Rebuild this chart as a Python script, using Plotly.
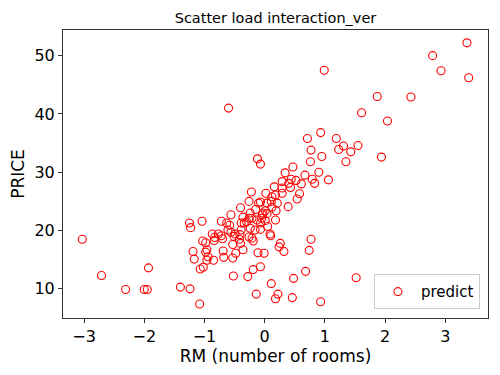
import plotly.graph_objects as go

rm = [-3.03, -2.71, -2.31, -2.00, -1.95, -1.93, -1.40, -1.24, -1.08, -1.25,
      -1.23, -1.04, -1.19, -1.17, -1.07, -1.02, -1.03, -0.98, -0.96, -0.98,
      -0.94, -0.96, -0.85, -0.87, -0.83, -0.84, -0.72, -0.77, -0.72, -0.70,
      -0.69, -0.68, -0.63, -0.58, -0.61, -0.56, -0.56, -0.51, -0.53, -0.53,
      -0.52, -0.48, -0.42, -0.40, -0.36, -0.40, -0.36, -0.39, -0.34, -0.39,
      -0.26, -0.26, -0.21, -0.19, -0.28, -0.22, -0.26, -0.24, -0.15, -0.10,
      -0.19, -0.14, -0.11, -0.07, -0.01, -0.60, -0.12, -0.07,
      3.36, 2.79, 2.93, 3.39, 0.99, 1.87, 2.43, 1.61, 2.04, 0.93,
      0.71, 1.19, 0.77, 1.23, 1.31, 1.43, 1.55, 0.95, 0.76, 1.35,
      1.94, 0.47, 0.34, 0.67, 0.90, 1.06, 0.79, 0.83, 0.44, 0.40,
      0.29, 0.52, 0.61, 0.16, 0.43, 0.02, 0.18, 0.58, 0.54, -0.07,
      0.04, 0.11, 0.21, 0.12, 0.39, 0.19, -0.04, 0.04, 0.01, 0.18,
      -0.07, 0.09, 0.10, 0.77, 0.26, 0.24, 0.32, 0.74, 0.68, 0.48,
      1.52, 0.11, 0.22, 0.18, 0.46, 0.93,
      -0.03, 0.01, -0.05, -0.13, -0.21, -0.30, -0.49, -0.41, -0.24, -0.16,
      -0.07, 0.05, 0.29, 0.12, 0.29]

price = [18.5, 12.3, 9.9, 9.9, 9.9, 13.6, 10.3, 10.0, 7.4, 21.3,
         20.5, 21.6, 16.4, 15.1, 13.4, 13.7, 18.2, 17.9, 16.7, 16.3,
         15.5, 14.9, 14.9, 19.4, 18.8, 18.3, 21.6, 19.4, 19.1, 18.6,
         16.5, 15.4, 21.3, 20.9, 20.1, 19.7, 22.7, 19.0, 17.6, 15.3,
         12.2, 16.1, 18.5, 17.8, 16.7, 23.9, 22.3, 21.3, 21.3, 20.1,
         22.1, 18.9, 18.7, 18.2, 12.1, 26.6, 25.0, 23.0, 23.6, 24.7,
         13.3, 9.1, 16.2, 13.8, 16.1, 41.0, 32.3, 31.4,
         52.2, 50.0, 47.4, 46.2, 47.5, 43.0, 42.9, 40.2, 38.8, 36.8,
         35.8, 35.8, 33.8, 33.9, 34.5, 33.5, 34.6, 32.7, 31.8, 31.8,
         32.6, 30.9, 29.9, 29.5, 30.0, 28.7, 28.8, 28.1, 28.8, 28.1,
         28.4, 28.6, 28.0, 27.5, 27.4, 26.4, 26.1, 26.3, 25.4, 24.9,
         24.7, 25.0, 24.7, 24.0, 24.1, 23.4, 22.7, 22.9, 21.7, 21.8,
         21.3, 19.4, 19.1, 18.5, 17.8, 17.2, 16.4, 16.6, 13.0, 11.8,
         11.9, 10.9, 9.1, 8.3, 8.5, 7.8,
         23.0, 23.4, 22.1, 21.8, 22.1, 21.5, 19.4, 19.3, 20.4, 20.1,
         20.2, 20.7, 27.3, 25.8, 26.4]

x_ticks = [-3, -2, -1, 0, 1, 2, 3]
x_labels = ["\u22123", "\u22122", "\u22121", "0", "1", "2", "3"]
y_ticks = [10, 20, 30, 40, 50]
y_labels = ["10", "20", "30", "40", "50"]

font = "DejaVu Sans"

fig = go.Figure()
fig.add_trace(go.Scatter(
    x=rm, y=price, mode="markers", name="predict",
    marker=dict(symbol="circle-open", size=8, color="red",
                line=dict(color="red", width=1.1)),
))

axis_common = dict(
    showline=True, linecolor="#333333", linewidth=1, mirror=True,
    ticks="outside", ticklen=4, tickcolor="#333333", tickwidth=1,
    showgrid=False, zeroline=False, automargin=False,
    tickfont=dict(family=font, size=16, color="black"),
)

# the page body has an 8px margin, so the figure is offset by (8, 8)
fig.update_layout(
    width=484, height=359,
    paper_bgcolor="white", plot_bgcolor="white",
    margin=dict(l=55, r=4, t=22, b=49, autoexpand=False),
    title=dict(text="Scatter load interaction_ver", x=0.5, xref="paper",
               xanchor="center", y=1 - 10 / 359, yanchor="middle",
               yref="container",
               font=dict(family=font, size=14.5, color="black")),
    xaxis=dict(range=[-3.35, 3.71], tickvals=x_ticks, ticktext=x_labels,
               title=dict(text="RM (number of rooms)", standoff=4,
                          font=dict(family=font, size=17, color="black")),
               **axis_common),
    yaxis=dict(range=[5.0, 54.4], tickvals=y_ticks, ticktext=y_labels,
               title=dict(text="PRICE", standoff=5,
                          font=dict(family=font, size=17, color="black")),
               **axis_common),
    showlegend=True,
    legend=dict(x=0.981, y=0.03, xanchor="right", yanchor="bottom",
                bgcolor="white", bordercolor="#cccccc", borderwidth=1,
                font=dict(family=font, size=15, color="black"),
                itemwidth=36),
)

fig.write_html("out.html")
